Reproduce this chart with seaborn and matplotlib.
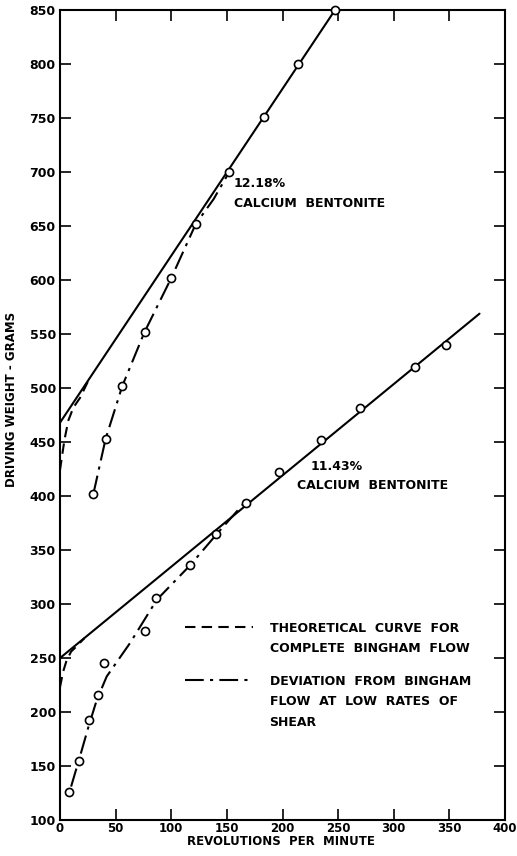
import numpy as np
import pandas as pd
import matplotlib
matplotlib.use("Agg")
import matplotlib.pyplot as plt
from matplotlib.lines import Line2D
import seaborn as sns

# 12.18 % calcium bentonite - measured points
hi_rpm = [30, 41, 56, 76, 100, 122, 152, 183, 214, 247]
hi_wt = [402, 453, 502, 552, 602, 652, 700, 751, 800, 850]
# straight Bingham line
hi_line_rpm = [0, 247]
hi_line_wt = [468, 850]
# theoretical curve near origin
hi_theo_rpm = [0, 2, 4, 7.5, 12, 18, 26]
hi_theo_wt = [424, 438, 452, 470, 482, 491, 508]
# deviation curve
hi_dev_rpm = [30, 41, 56, 76, 100, 122, 138, 152]
hi_dev_wt = [402, 453, 502, 552, 602, 652, 675, 700]

# 11.43 % calcium bentonite - measured points
lo_rpm = [8, 17, 26, 34, 40, 76, 86, 117, 140, 167, 197, 235, 270, 319, 347]
lo_wt = [126, 155, 193, 216, 245, 275, 306, 336, 365, 394, 422, 452, 482, 520, 540]
lo_line_rpm = [0, 377]
lo_line_wt = [250, 569]
lo_theo_rpm = [0, 3, 6, 10, 15, 22]
lo_theo_wt = [223, 238, 248, 256, 261, 268.5]
lo_dev_rpm = [10, 18, 25.5, 33, 42, 63, 87, 117, 141, 165]
lo_dev_wt = [131, 159, 186, 211, 233, 264, 304, 336, 365, 393]

DASHED = (0, (5, 3))
DASHDOT = (0, (9, 3, 1.5, 3))

sns.set_style("ticks")
plt.rcParams['font.family'] = ['DejaVu Sans']
plt.rcParams['font.weight'] = 'bold'
for key in ['text.color', 'axes.labelcolor', 'xtick.color', 'ytick.color']:
    plt.rcParams[key] = 'black'

fig = plt.figure(figsize=(5.17, 8.56), dpi=100)
ax = fig.add_axes([0.116, 0.042, 0.861, 0.946])

lw = 1.5
for xs, ys, ls in [(hi_line_rpm, hi_line_wt, '-'), (lo_line_rpm, lo_line_wt, '-'),
                   (hi_theo_rpm, hi_theo_wt, DASHED), (lo_theo_rpm, lo_theo_wt, DASHED),
                   (hi_dev_rpm, hi_dev_wt, DASHDOT), (lo_dev_rpm, lo_dev_wt, DASHDOT)]:
    sns.lineplot(x=xs, y=ys, ax=ax, color='black', lw=lw, linestyle=ls,
                 sort=False, estimator=None)

pts = pd.DataFrame({
    'rpm': hi_rpm + lo_rpm,
    'wt': hi_wt + lo_wt,
})
sns.scatterplot(data=pts, x='rpm', y='wt', ax=ax, s=34, facecolor='white',
                edgecolor='black', linewidth=1.2, zorder=5, clip_on=False)

ax.set_xlim(0, 400)
ax.set_ylim(100, 850)
ax.set_xticks(np.arange(0, 401, 50))
ax.set_yticks(np.arange(100, 851, 50))
ax.tick_params(direction='in', length=8, width=1.2, top=True, right=True,
               labelsize=9, pad=3)
ax.tick_params(axis='x', labelsize=8.5, pad=1.5)
for s in ax.spines.values():
    s.set_linewidth(1.5)
    s.set_color('black')
for lab in ax.get_xticklabels() + ax.get_yticklabels():
    lab.set_fontweight('bold')

ax.set_xlabel('REVOLUTIONS  PER  MINUTE', fontsize=8.5, fontweight='bold')
ax.set_ylabel('DRIVING WEIGHT - GRAMS', fontsize=8.5, fontweight='bold')
ax.xaxis.set_label_coords(0.497, -0.0185)
ax.yaxis.set_label_coords(-0.094, 0.519)

tkw = dict(fontsize=9, fontweight='bold', ha='left', va='center')
ax.text(156, 690, '12.18%', **tkw)
ax.text(156, 671, 'CALCIUM  BENTONITE', **tkw)
ax.text(225, 427, '11.43%', **tkw)
ax.text(213, 410, 'CALCIUM  BENTONITE', **tkw)

blank = Line2D([], [], color='none')
lkw = dict(loc='upper left', frameon=False, borderpad=0, borderaxespad=0,
           handlelength=5.4, handletextpad=1.36, labelspacing=0.6,
           prop={'size': 9, 'weight': 'bold'})
leg1 = ax.legend([Line2D([], [], color='k', lw=lw, ls=DASHED), blank],
                 ['THEORETICAL  CURVE  FOR', 'COMPLETE  BINGHAM  FLOW'],
                 bbox_to_anchor=(0.281, 0.245), **lkw)
ax.add_artist(leg1)
ax.legend([Line2D([], [], color='k', lw=lw, ls=DASHDOT), blank, blank],
          ['DEVIATION  FROM  BINGHAM', 'FLOW  AT  LOW  RATES  OF', 'SHEAR'],
          bbox_to_anchor=(0.281, 0.1795), **lkw)

fig.savefig('out.png', dpi=100)
